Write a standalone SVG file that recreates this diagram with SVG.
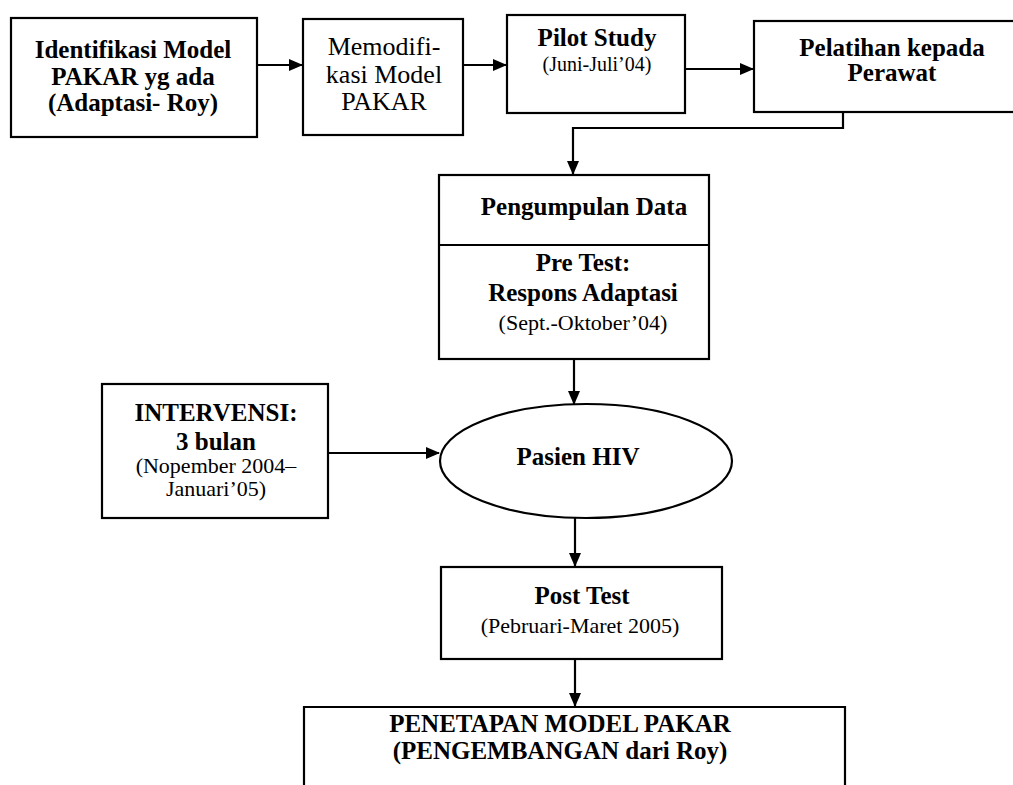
<svg xmlns="http://www.w3.org/2000/svg" width="1013" height="785" viewBox="0 0 1013 785">
  <style>
    .box { fill: #fff; stroke: #000; stroke-width: 2.2; }
    .wire { fill: none; stroke: #000; stroke-width: 2.2; }
    text { font-family: "Liberation Serif", "Times New Roman", serif; fill: #000; text-anchor: middle; }
    .b { font-weight: bold; font-size: 25px; }
    .r { font-size: 26px; }
    .s { font-size: 22px; }
    .xs { font-size: 20px; }
  </style>
  <defs>
    <marker id="arrow" markerWidth="14" markerHeight="12" refX="13" refY="6" orient="auto" markerUnits="userSpaceOnUse">
      <path d="M0,0 L14,6 L0,12 Z" fill="#000"/>
    </marker>
  </defs>
  <rect width="1013" height="785" fill="#fff"/>

  <!-- connectors -->
  <g id="connectors">
    <line class="wire" x1="257" y1="65" x2="302" y2="65" marker-end="url(#arrow)"/>
    <line class="wire" x1="463" y1="65" x2="506" y2="65" marker-end="url(#arrow)"/>
    <line class="wire" x1="685" y1="69" x2="753" y2="69" marker-end="url(#arrow)"/>
    <polyline class="wire" points="843,112 843,128 573,128 573,174" marker-end="url(#arrow)"/>
    <line class="wire" x1="574" y1="359" x2="574" y2="404" marker-end="url(#arrow)"/>
    <line class="wire" x1="328" y1="453" x2="439" y2="453" marker-end="url(#arrow)"/>
    <line class="wire" x1="575" y1="518" x2="575" y2="566" marker-end="url(#arrow)"/>
    <line class="wire" x1="575" y1="659" x2="575" y2="706" marker-end="url(#arrow)"/>
  </g>

  <!-- Identifikasi Model -->
  <g id="identifikasi">
    <rect class="box" x="11" y="18" width="246" height="119"/>
    <text class="b" x="133" y="58">Identifikasi Model</text>
    <text class="b" x="133" y="85">PAKAR yg ada</text>
    <text class="b" x="133" y="111">(Adaptasi- Roy)</text>
  </g>

  <!-- Memodifikasi Model -->
  <g id="memodifikasi">
    <rect class="box" x="303" y="19" width="160" height="116"/>
    <text class="r" x="384" y="55">Memodifi-</text>
    <text class="r" x="384" y="83">kasi Model</text>
    <text class="r" x="384" y="110">PAKAR</text>
  </g>

  <!-- Pilot Study -->
  <g id="pilot">
    <rect class="box" x="507" y="15" width="178" height="98"/>
    <text class="b" x="597" y="46">Pilot Study</text>
    <text class="xs" x="597" y="71">(Juni-Juli’04)</text>
  </g>

  <!-- Pelatihan -->
  <g id="pelatihan">
    <rect class="box" x="754" y="21" width="290" height="91"/>
    <text class="b" x="892" y="56">Pelatihan kepada</text>
    <text class="b" x="892" y="81">Perawat</text>
  </g>

  <!-- Pengumpulan Data -->
  <g id="pengumpulan">
    <rect class="box" x="439" y="175" width="270" height="184"/>
    <line class="wire" x1="439" y1="245" x2="709" y2="245"/>
    <text class="b" x="584" y="215">Pengumpulan Data</text>
    <text class="b" x="583" y="271">Pre Test:</text>
    <text class="b" x="583" y="301">Respons Adaptasi</text>
    <text class="s" x="583" y="330">(Sept.-Oktober’04)</text>
  </g>

  <!-- Intervensi -->
  <g id="intervensi">
    <rect class="box" x="102" y="384" width="226" height="134"/>
    <text class="b" x="216" y="421">INTERVENSI:</text>
    <text class="b" x="216" y="450">3 bulan</text>
    <text class="s" x="216" y="473">(Nopember 2004–</text>
    <text class="s" x="216" y="496">Januari’05)</text>
  </g>

  <!-- Pasien HIV -->
  <g id="pasien">
    <ellipse class="box" cx="586" cy="461" rx="146" ry="57"/>
    <text class="b" x="578" y="465">Pasien HIV</text>
  </g>

  <!-- Post Test -->
  <g id="posttest">
    <rect class="box" x="441" y="567" width="281" height="92"/>
    <text class="b" x="582" y="604">Post Test</text>
    <text class="s" x="580" y="633">(Pebruari-Maret 2005)</text>
  </g>

  <!-- Penetapan Model -->
  <g id="penetapan">
    <path class="wire" d="M304,800 L304,707 L845,707 L845,800"/>
    <text class="b" x="560" y="732">PENETAPAN MODEL PAKAR</text>
    <text class="b" x="560" y="759">(PENGEMBANGAN dari Roy)</text>
  </g>
</svg>
